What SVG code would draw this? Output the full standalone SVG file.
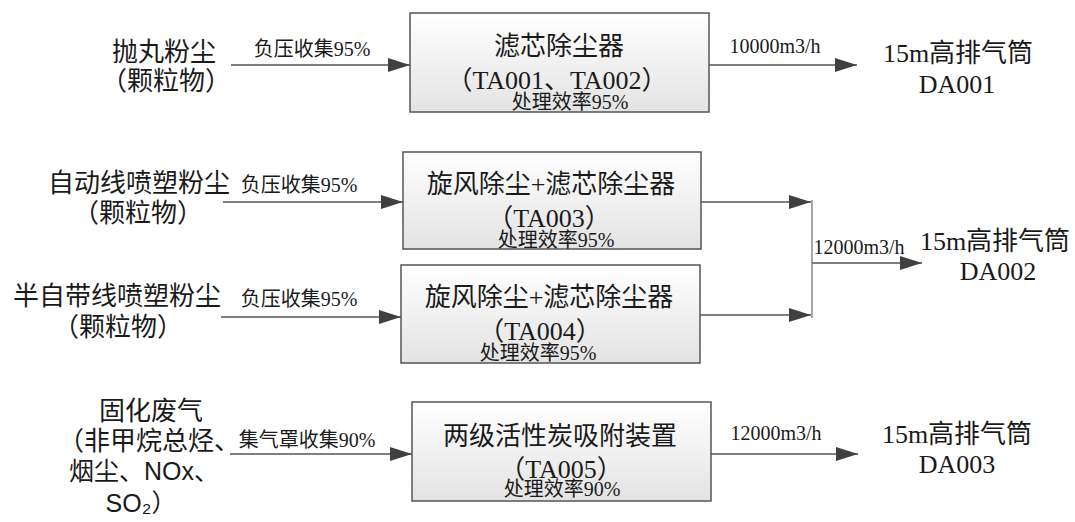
<svg xmlns="http://www.w3.org/2000/svg" width="1075" height="522" viewBox="0 0 1075 522">
<defs>
<linearGradient id="boxfill" x1="0" y1="0" x2="0" y2="1">
<stop offset="0" stop-color="#ffffff"/>
<stop offset="1" stop-color="#e3e3e3"/>
</linearGradient>
<marker id="arr" viewBox="0 0 22 14" refX="22" refY="7" markerWidth="22" markerHeight="14" markerUnits="userSpaceOnUse" orient="auto">
<path d="M0,0 L22,7 L0,14 Z" fill="#404040"/>
</marker>
</defs>
<style>
.box{fill:url(#boxfill);stroke:#555;stroke-width:1.5}
.t{font-family:"Liberation Serif","Noto Sans CJK SC",serif;fill:#1a1a1a;text-anchor:middle}
.big{font-size:26px}
.sm{font-size:20px}
.ss{font-family:"Liberation Sans","Noto Sans CJK SC",sans-serif;font-size:25px;fill:#1a1a1a;text-anchor:middle}
.ln{stroke:#555;stroke-width:1.5;fill:none}
.lnv{stroke:#888;stroke-width:1.5;fill:none}
</style>
<rect width="1075" height="522" fill="#ffffff"/>

<g id="src1">
<text class="t big" x="164" y="61">抛丸粉尘</text>
<text class="t big" x="166" y="90">（颗粒物）</text>
</g>
<g id="src2">
<text class="t big" x="139" y="192">自动线喷塑粉尘</text>
<text class="t big" x="138" y="222">（颗粒物）</text>
</g>
<g id="src3">
<text class="t big" x="117" y="305">半自带线喷塑粉尘</text>
<text class="t big" x="118" y="336">（颗粒物）</text>
</g>
<g id="src4">
<text class="t big" x="151" y="420">固化废气</text>
<text class="t big" x="149" y="450">（非甲烷总烃、</text>
<text class="ss" x="144" y="480">烟尘、NOx、</text>
<text class="ss" x="141" y="512">SO₂）</text>
</g>

<g id="TA001">
<rect class="box" x="410" y="13" width="299" height="99"/>
<text class="t big" x="559" y="55">滤芯除尘器</text>
<text class="t big" x="557" y="89">（TA001、TA002）</text>
<text class="t sm" x="570" y="109">处理效率95%</text>
</g>
<g id="TA003">
<rect class="box" x="403" y="152" width="298" height="97"/>
<text class="t big" x="551" y="193">旋风除尘+滤芯除尘器</text>
<text class="t big" x="549" y="227">（TA003）</text>
<text class="t sm" x="556" y="247">处理效率95%</text>
</g>
<g id="TA004">
<rect class="box" x="401" y="265" width="299" height="98"/>
<text class="t big" x="549" y="306">旋风除尘+滤芯除尘器</text>
<text class="t big" x="540" y="340">（TA004）</text>
<text class="t sm" x="538" y="360">处理效率95%</text>
</g>
<g id="TA005">
<rect class="box" x="412" y="402" width="299" height="99"/>
<text class="t big" x="560" y="445">两级活性炭吸附装置</text>
<text class="t big" x="561" y="478">（TA005）</text>
<text class="t sm" x="562" y="496">处理效率90%</text>
</g>

<g id="DA001">
<text class="t big" x="958" y="62">15m高排气筒</text>
<text class="t big" x="957" y="93">DA001</text>
</g>
<g id="DA002">
<text class="t big" x="995" y="250">15m高排气筒</text>
<text class="t big" x="998" y="280">DA002</text>
</g>
<g id="DA003">
<text class="t big" x="957" y="443">15m高排气筒</text>
<text class="t big" x="957" y="473">DA003</text>
</g>

<g id="connectors">
<line class="ln" x1="231" y1="65" x2="410" y2="65" marker-end="url(#arr)"/>
<text class="t sm" x="312" y="56">负压收集95%</text>
<line class="ln" x1="709" y1="65" x2="857" y2="65" marker-end="url(#arr)"/>
<text class="t sm" x="775" y="53">10000m3/h</text>

<line class="ln" x1="223" y1="202" x2="403" y2="202" marker-end="url(#arr)"/>
<text class="t sm" x="299" y="192">负压收集95%</text>
<line class="ln" x1="221" y1="317" x2="401" y2="317" marker-end="url(#arr)"/>
<text class="t sm" x="299" y="306">负压收集95%</text>

<line class="ln" x1="701" y1="202" x2="811" y2="202" marker-end="url(#arr)"/>
<line class="ln" x1="700" y1="315" x2="811" y2="315" marker-end="url(#arr)"/>
<line class="lnv" x1="812" y1="200" x2="812" y2="318"/>
<line class="ln" x1="812" y1="263" x2="922" y2="263" marker-end="url(#arr)"/>
<text class="t sm" x="859" y="254">12000m3/h</text>

<line class="ln" x1="230" y1="454" x2="412" y2="454" marker-end="url(#arr)"/>
<text class="t sm" x="307" y="447">集气罩收集90%</text>
<line class="ln" x1="711" y1="454" x2="858" y2="454" marker-end="url(#arr)"/>
<text class="t sm" x="776" y="440">12000m3/h</text>
</g>
</svg>
